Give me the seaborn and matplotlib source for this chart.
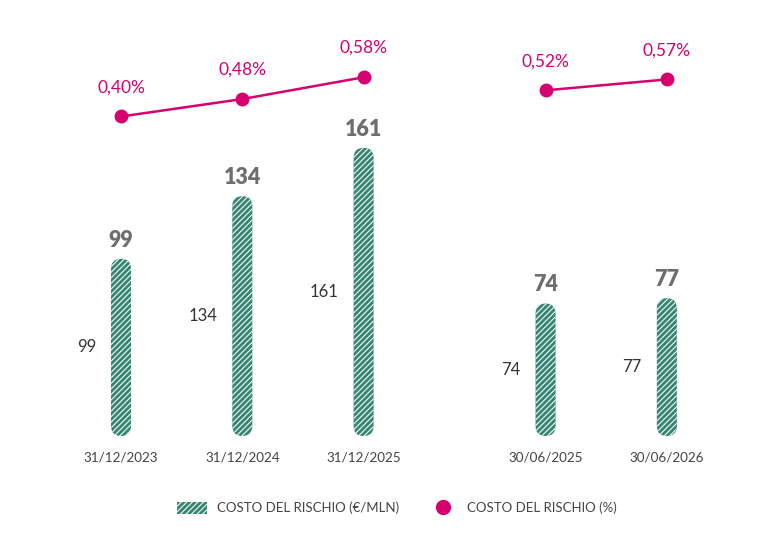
import numpy as np
import pandas as pd
import seaborn as sns
import matplotlib.pyplot as plt
from matplotlib.patches import FancyBboxPatch, Patch
from matplotlib.lines import Line2D

# Dati
date = ["31/12/2023", "31/12/2024", "31/12/2025", "30/06/2025", "30/06/2026"]
posizioni = [0, 1, 2, 3.5, 4.5]
costo_mln = [99, 134, 161, 74, 77]
costo_pct = [0.40, 0.48, 0.58, 0.52, 0.57]
etichette_pct = ["0,40%", "0,48%", "0,58%", "0,52%", "0,57%"]
gruppo = ["annuale", "annuale", "annuale", "semestrale", "semestrale"]

TEAL = "#378573"
MAGENTA = "#d6006e"
HATCH = "/" * 6

sns.set_theme(style="white")
plt.rcParams["font.family"] = ["Lato", "DejaVu Sans"]
plt.rcParams["hatch.color"] = "white"
plt.rcParams["hatch.linewidth"] = 0.75

df = pd.DataFrame({
    "data": date,
    "pos": posizioni,
    "mln": costo_mln,
    "pct": costo_pct,
    "gruppo": gruppo,
})

fig = plt.figure(figsize=(7.78, 5.4), dpi=100)
ax = fig.add_axes([0, 104 / 540, 1, 406 / 540])

sns.barplot(data=df, x="pos", y="mln", native_scale=True, width=0.165,
            color=TEAL, ax=ax)
ax.set_xlim(-121 / 121.3, 657 / 121.3)
ax.set_ylim(0, 406 / 1.79)

# Rounded hatched bars replace the seaborn rectangles
fig.canvas.draw()
bb = ax.get_window_extent()
x0, x1 = ax.get_xlim()
y0, y1 = ax.get_ylim()
asp = ((y1 - y0) / bb.height) / ((x1 - x0) / bb.width)
for p in list(ax.patches):
    x, w, h = p.get_x(), p.get_width(), p.get_height()
    p.remove()
    ax.add_patch(FancyBboxPatch(
        (x, 0), w, h,
        boxstyle=f"round,pad=0,rounding_size={w / 2}",
        mutation_aspect=asp, facecolor=TEAL, edgecolor="white",
        linewidth=0, hatch=HATCH))

for xp, v in zip(posizioni, costo_mln):
    ax.annotate(str(v), (xp, v), xytext=(0, 13.5), textcoords="offset points",
                ha="center", va="center", fontsize=15.5, fontweight="heavy",
                color="#6e6e6e")
    ax.annotate(str(v), (xp, v / 2), xytext=(-18, 0), textcoords="offset points",
                ha="right", va="center", fontsize=12, color="#333333")

ax.set_xticks(posizioni, date)
ax.tick_params(axis="x", length=0, pad=11, labelsize=9.7, labelcolor="#444444")
ax.set_yticks([])
ax.set_xlabel("")
ax.set_ylabel("")
sns.despine(ax=ax, left=True, bottom=True)

# Line on secondary axis
ax2 = ax.twinx()
sns.lineplot(data=df, x="pos", y="pct", units="gruppo", estimator=None,
             color=MAGENTA, marker="o", markersize=10, markeredgewidth=0,
             linewidth=1.8, ax=ax2)
ax2.set_ylim(0.40 - 319.5 / 218, 0.40 + 86.5 / 218)
ax2.set_xlim(ax.get_xlim())
for xp, v, lab in zip(posizioni, costo_pct, etichette_pct):
    ax2.annotate(lab, (xp, v), xytext=(0, 21), textcoords="offset points",
                 ha="center", va="center", fontsize=12.5, color=MAGENTA)
ax2.set_yticks([])
ax2.set_ylabel("")
ax2.set_xlabel("")
sns.despine(ax=ax2, left=True, bottom=True, right=True)

handles = [
    Patch(facecolor=TEAL, edgecolor="white", linewidth=0, hatch=HATCH,
          label="COSTO DEL RISCHIO (€/MLN)"),
    Line2D([], [], color=MAGENTA, marker="o", linestyle="", markersize=11,
           markeredgewidth=0, label="COSTO DEL RISCHIO (%)"),
]
leg = fig.legend(handles=handles, loc="center", bbox_to_anchor=(397 / 778, 1 - 508 / 540),
                 ncol=2, frameon=False, fontsize=9.5, handlelength=2.3,
                 handleheight=1.1, handletextpad=0.7, columnspacing=2.2)
for t in leg.get_texts():
    t.set_color("#444444")

fig.savefig("out.png", dpi=100)
